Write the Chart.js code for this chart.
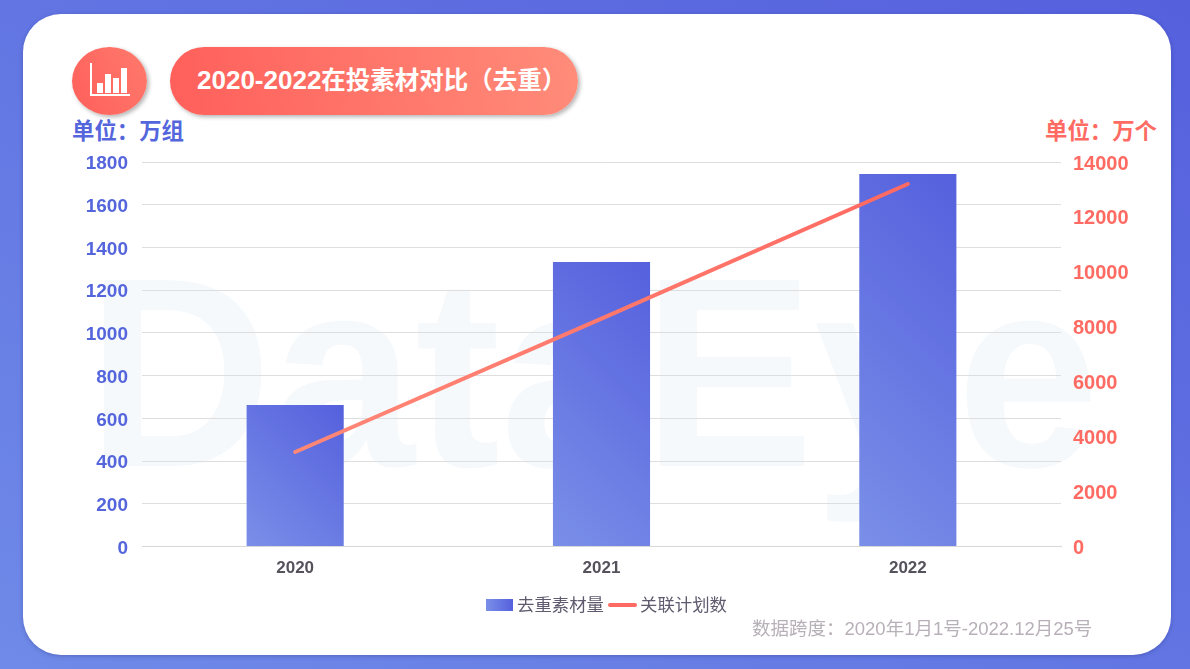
<!DOCTYPE html>
<html>
<head>
<meta charset="utf-8">
<script src="https://cdn.jsdelivr.net/npm/chart.js@4"></script>
<style>
    * { box-sizing: border-box; }
    html, body { margin: 0; width: 1190px; height: 669px; overflow: hidden; }
    body {
        position: relative;
        font-family: "Liberation Sans", "Noto Sans CJK SC", sans-serif;
        background: linear-gradient(30deg, #6f8ae8 0%, #5560dd 100%);
    }
    .card {
        position: absolute; left: 23px; top: 14px; width: 1148px; height: 641px;
        background: #fff; border-radius: 38px;
        box-shadow: 0 1px 4px rgba(40, 50, 120, 0.35);
    }
    .watermark {
        position: absolute; left: 87px; top: 228px;
        font-size: 270px; line-height: 290px; font-weight: bold; color: #f5f9fc; white-space: nowrap;
        transform: scaleX(0.95); transform-origin: left top;
    }
    .badge {
        position: absolute; left: 72px; top: 47px; width: 75px; height: 68px; border-radius: 50%;
        background: linear-gradient(60deg, #ff5f5a, #ff7a6c);
        box-shadow: 2px 2px 4px rgba(0, 0, 0, 0.3);
    }
    .badge svg { position: absolute; left: 17px; top: 15px; }
    .pill {
        position: absolute; left: 170px; top: 47px; width: 408px; height: 68px; border-radius: 34px;
        background: linear-gradient(80deg, #ff5f5a, #ff8c7a);
        box-shadow: 2px 2px 4px rgba(0, 0, 0, 0.3);
        color: #fff; font-size: 24.5px; font-weight: bold; line-height: 66px; padding-left: 27px;
        white-space: nowrap;
    }
    .pill span { font-size: 26px; }
    .unit { position: absolute; top: 118px; font-size: 22.4px; line-height: 28px; font-weight: bold; white-space: nowrap; }
    .note { position: absolute; left: 752px; top: 618px; font-size: 18.5px; line-height: 22px; color: #b8b0b8; white-space: nowrap; }
    .chart-box { position: absolute; left: 0; top: 0; width: 1190px; height: 669px; }
    .legend-text { position: absolute; top: 594px; font-size: 17.4px; line-height: 22px; color: #5f5a6e; white-space: nowrap; }
    .legend-bar { position: absolute; left: 486px; top: 599px; width: 27px; height: 12px; background: linear-gradient(90deg, #7a8fe8, #5560dd); }
    .legend-line { position: absolute; left: 608px; top: 603px; width: 29px; height: 4px; border-radius: 2px; background: #ff6b62; }
</style>
</head>
<body>
<div class="card"></div>
<div class="watermark">DataEye</div>
<div class="badge">
    <svg width="42" height="36" viewBox="0 0 42 36">
        <path d="M2 1V33H41" fill="none" stroke="#fff" stroke-width="2"/>
        <rect x="8" y="21" width="6" height="10" fill="#fff"/>
        <rect x="16" y="12" width="6" height="19" fill="#fff"/>
        <rect x="24" y="16" width="6" height="15" fill="#fff"/>
        <rect x="32" y="6" width="6" height="25" fill="#fff"/>
    </svg>
</div>
<div class="pill"><span>2020-2022</span>在投素材对比（去重）</div>
<div class="unit" style="left:72px;color:#5566dd">单位：万组</div>
<div class="unit" style="left:1045px;color:#ff6b62">单位：万个</div>
<div class="chart-box"><canvas id="comboChart"></canvas></div>
<div class="legend-bar"></div>
<div class="legend-text" style="left:517px">去重素材量</div>
<div class="legend-line"></div>
<div class="legend-text" style="left:640px">关联计划数</div>
<div class="note">数据跨度：2020年1月1号-2022.12月25号</div>

<script>
// Chart data
const years = ['2020', '2021', '2022'];
const materialCounts = [662, 1332, 1744];
const planCounts = [3440, 8300, 13200];
const leftTicks = [0, 200, 400, 600, 800, 1000, 1200, 1400, 1600, 1800];
const rightTicks = [0, 2000, 4000, 6000, 8000, 10000, 12000, 14000];

const FONT = '"Liberation Sans", "Noto Sans CJK SC", sans-serif';
const BLUE = '#5566dd';
const RED = '#ff6b62';
const BAR_SHARE = 0.317;

// Each bar has its own 45 degree gradient
function barGradient(ctx) {
    const chart = ctx.chart;
    if (!chart.chartArea || ctx.parsed === undefined) return '#6a7de4';
    const w = chart.chartArea.width / years.length * BAR_SHARE;
    const bottom = chart.chartArea.bottom;
    const top = chart.scales.y.getPixelForValue(ctx.parsed.y);
    const cx = chart.scales.x.getPixelForValue(ctx.dataIndex);
    const cy = (top + bottom) / 2;
    const d = (w + bottom - top) / 4;
    const g = chart.ctx.createLinearGradient(cx - d, cy + d, cx + d, cy - d);
    g.addColorStop(0, '#7a8fe8');
    g.addColorStop(1, '#5560dd');
    return g;
}

// Line goes from light on the left to darker on the right
function lineGradient(ctx) {
    const area = ctx.chart.chartArea;
    if (!area) return RED;
    const g = ctx.chart.ctx.createLinearGradient(area.left, 0, area.right, 0);
    g.addColorStop(0, '#ff8f7c');
    g.addColorStop(1, '#ff625c');
    return g;
}

const chart = new Chart(document.getElementById('comboChart'), {
    type: 'bar',
    data: {
        labels: years,
        datasets: [
            {
                type: 'bar',
                label: '去重素材量',
                data: materialCounts,
                yAxisID: 'y',
                backgroundColor: barGradient,
                borderWidth: 0,
                barPercentage: BAR_SHARE,
                categoryPercentage: 1,
                order: 2
            },
            {
                type: 'line',
                label: '关联计划数',
                data: planCounts,
                yAxisID: 'y1',
                borderColor: lineGradient,
                borderWidth: 4,
                borderCapStyle: 'round',
                pointRadius: 0,
                tension: 0,
                order: 1
            }
        ]
    },
    options: {
        responsive: true,
        maintainAspectRatio: false,
        animation: false,
        layout: { padding: { top: 162, bottom: 60, left: 0, right: 0 } },
        scales: {
            x: {
                grid: { display: false },
                border: { color: '#d8d8d8' },
                ticks: { color: '#55525c', padding: 3.5, font: { family: FONT, size: 17, weight: 'bold' } },
                afterFit: scale => { scale.height = 62.5; }
            },
            y: {
                position: 'left',
                min: 0,
                max: 1800,
                afterBuildTicks: scale => { scale.ticks = leftTicks.map(value => ({ value })); },
                grid: { color: '#dedede', drawTicks: false },
                border: { display: false },
                ticks: { color: BLUE, padding: 14, callback: v => String(v), font: { family: FONT, size: 19, weight: 'bold' } },
                afterFit: scale => { scale.width = 142; }
            },
            y1: {
                position: 'right',
                min: 0,
                max: 14000,
                afterBuildTicks: scale => { scale.ticks = rightTicks.map(value => ({ value })); },
                grid: { display: false, drawTicks: false },
                border: { display: false },
                ticks: { color: RED, padding: 12, callback: v => String(v), font: { family: FONT, size: 20, weight: 'bold' } },
                afterFit: scale => { scale.width = 129; }
            }
        },
        plugins: {
            tooltip: { enabled: false },
            legend: { display: false }
        }
    }
});

// Tick labels sit a little lower than the grid lines in the original
function nudgeLabels(scale, dy) {
    const drawLabels = scale.drawLabels.bind(scale);
    scale.drawLabels = area => {
        scale.ctx.save();
        scale.ctx.translate(0, dy);
        drawLabels(area);
        scale.ctx.restore();
    };
}
nudgeLabels(chart.scales.y, 2);
nudgeLabels(chart.scales.y1, 2);
chart.draw();
</script>
</body>
</html>
